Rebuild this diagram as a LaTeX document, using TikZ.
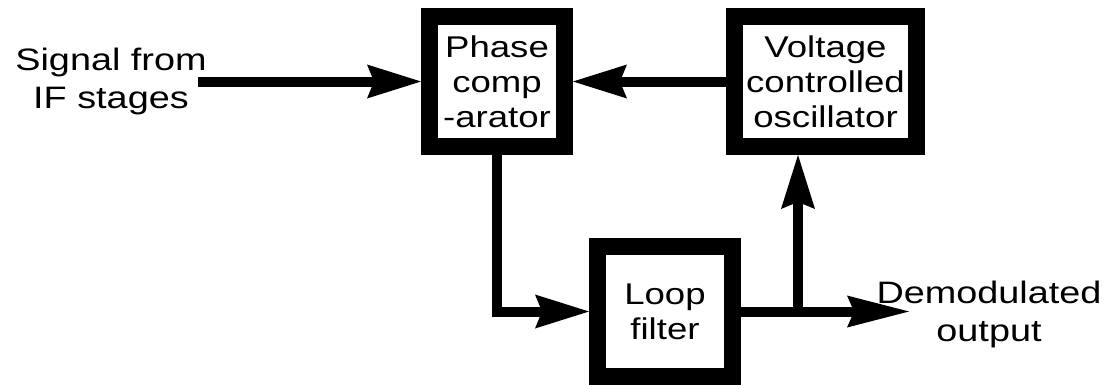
\documentclass[tikz,border=0pt]{standalone}
\usepackage{fontspec}
\usetikzlibrary{arrows.meta}
\newfontfamily\lab[FakeStretch=1.22]{Liberation Sans}
\begin{document}
\begin{tikzpicture}[x=1pt,y=-1pt,
  blk/.style={draw=black,line width=17pt,fill=white,inner sep=0pt,
    minimum width=135pt,minimum height=130pt,align=center,
    font=\lab\fontsize{30}{35}\selectfont},
  lbl/.style={inner sep=0pt,align=center,font=\lab\fontsize{31}{38}\selectfont},
  wire/.style={line width=10pt,
    -{Stealth[length=54pt,width=34pt,inset=7pt,line width=0pt]}},
  plain/.style={line width=10pt}]
\useasboundingbox (0,0) rectangle (1105,384);
\node[blk] (pc) at (497,81.5) {Phase\\comp\\-arator};
\node[blk,minimum width=182pt] (vco) at (825.5,81.5) {Voltage\\controlled\\oscillator};
\node[blk] (lf) at (665,311.5) {Loop\\filter};
\node[lbl] (in) at (111,81) {Signal from\\IF stages};
\node[lbl] (out) at (989,314.5) {Demodulated\\output};
\coordinate (src) at (198,81.5);
\coordinate (tip) at (909,311.5);
\coordinate (jn) at (798,311.5);
\draw[wire] (src) -- (pc.west);
\draw[wire] (vco.west) -- (pc.east);
\draw[wire] (pc.south) |- (lf.west);
\draw[wire,-{Stealth[length=62pt,width=32pt,inset=7pt,line width=0pt]}] (lf.east) -- (tip);
\draw[wire] (jn) -- (jn |- vco.south);
\end{tikzpicture}
\end{document}
